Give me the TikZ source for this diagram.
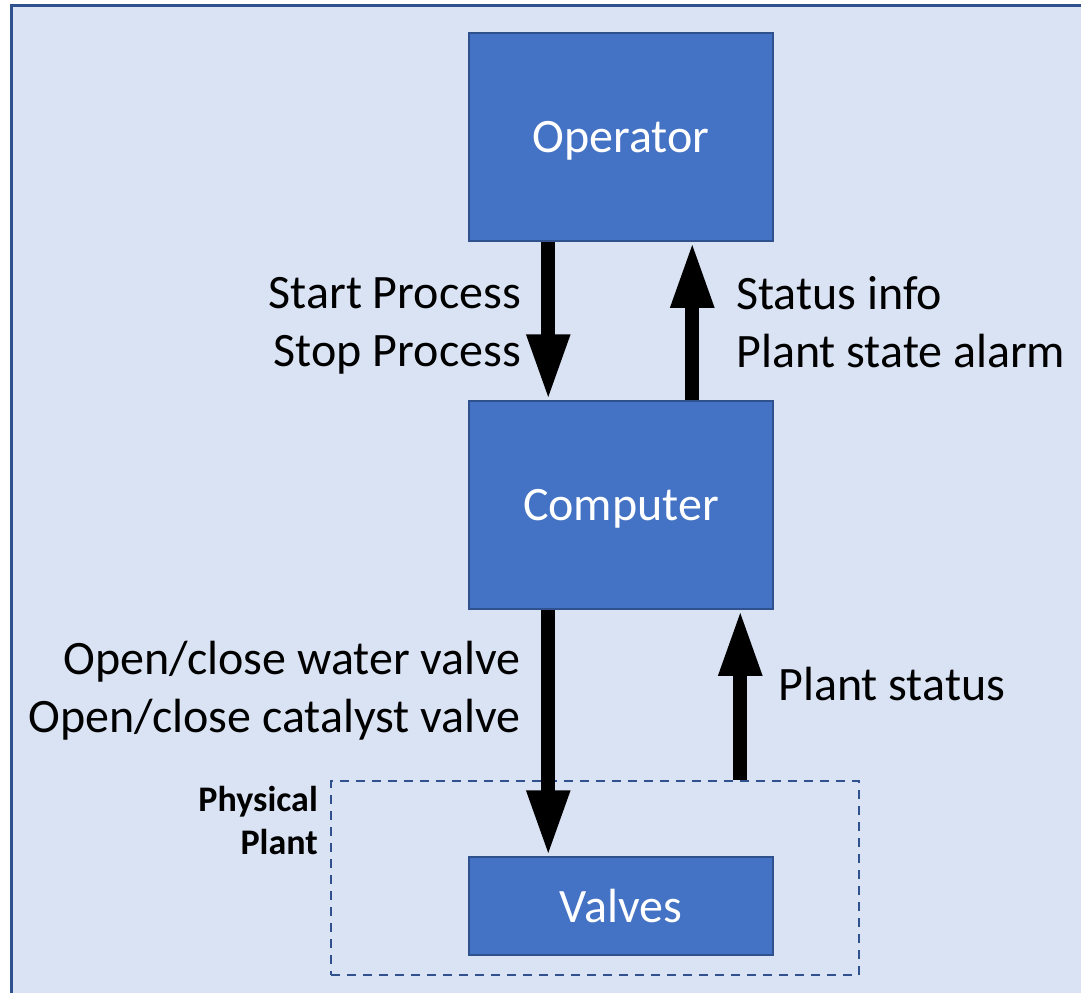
\documentclass[tikz,border=0pt]{standalone}
\usepackage{fontspec}
\setmainfont{Carlito}
\usepackage{tikz}
\usetikzlibrary{arrows.meta, positioning, calc}
\definecolor{panelblue}{HTML}{DAE3F3}
\definecolor{framblue}{HTML}{2F528F}
\definecolor{boxblue}{HTML}{4472C4}
\tikzset{
  bigarr/.style={-{Triangle[length=66pt, width=40pt]}, line width=14pt, black},
  ctlbox/.style={rectangle, draw=framblue, fill=boxblue, line width=1.5pt, text=white, minimum width=304pt, text depth=0pt, font=\fontsize{48}{58}\selectfont},
  plantbox/.style={rectangle, draw=framblue, dash pattern=on 9pt off 7pt, line width=2.6pt, minimum width=528pt, minimum height=194pt},
  msg/.style={font=\fontsize{48}{58}\selectfont, text=black, inner sep=0pt},
}
\begin{document}
\begin{tikzpicture}[x=1pt, y=-1pt]
  \useasboundingbox (0,0) rectangle (1081,993);
  % Panel
  \fill[panelblue] (11,5) rectangle (1081,993);
  \draw[framblue, line width=3pt] (11,993) -- (11,5) -- (1081,5);

  % Boxes
  \node[ctlbox, minimum height=208pt] (op) at (621,137) {Operator};
  \node[ctlbox, minimum height=208pt] (comp) at (621,505) {Computer};
  \node[ctlbox, minimum height=98pt] (valves) at (621,906) {Valves};
  \node[plantbox] (plant) at (595,878) {};
  \node[msg, anchor=east, align=right, font=\fontsize{36}{43}\selectfont\bfseries] (plantlbl) at (318,820) {Physical\\Plant};

  % Arrows
  \coordinate (fb) at ([xshift=272pt]comp.south west);
  \draw[bigarr] ([xshift=80pt]op.south west) -- ([xshift=80pt]comp.north west);
  \draw[bigarr] ([xshift=224pt]comp.north west) -- ([xshift=224pt]op.south west);
  \draw[bigarr] ([xshift=80pt]comp.south west) -- ([xshift=80pt]valves.north west);
  \draw[bigarr] (plant.north west -| fb) -- (fb);

  % Messages
  \node[msg, anchor=east, align=right] (cmds) at (521,326) {Start Process\\Stop Process};
  \node[msg, anchor=west, align=left] (stat) at (736,322) {Status info\\Plant state alarm};
  \node[msg, anchor=east, align=right] (acts) at (521,691) {Open/close water valve\\Open/close catalyst valve};
  \node[msg, anchor=west] (pstat) at (778,684) {Plant status};
\end{tikzpicture}
\end{document}
